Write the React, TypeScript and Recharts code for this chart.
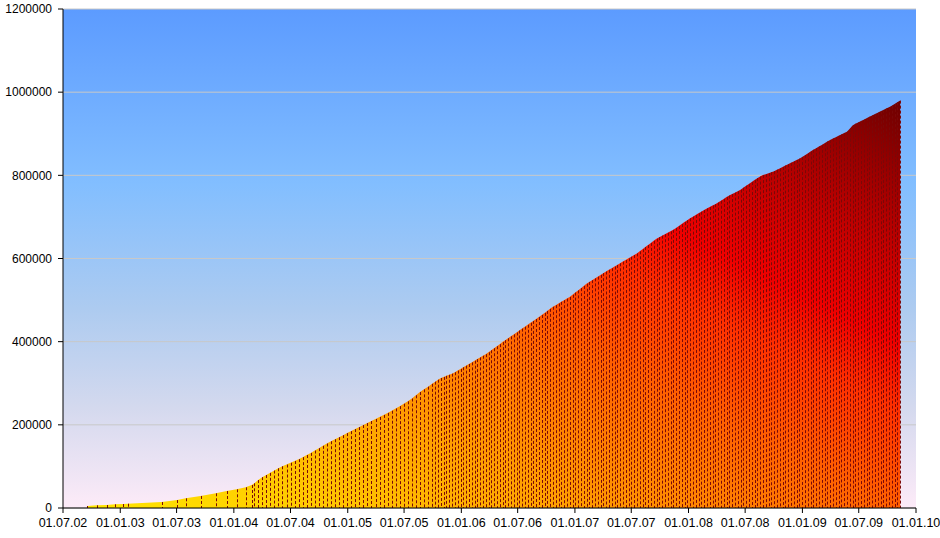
import React from 'react';
import { ComposedChart, Area, Bar, XAxis, YAxis, CartesianGrid } from 'recharts';

// x = days since 01.07.2002
const dayOffsets: number[] = [
  78, 108, 140, 167, 194, 207, 317, 367, 394, 442, 491, 526, 558, 587, 606, 615,
  627, 640, 653, 666, 679, 692, 705, 718, 731, 744, 757, 770, 783, 796, 809, 822,
  835, 848, 861, 874, 887, 900, 913, 926, 939, 952, 965, 978, 991, 1004, 1017, 1030,
  1043, 1056, 1069, 1082, 1095, 1108, 1121, 1134, 1147, 1160, 1173, 1186,
  1196, 1205, 1214, 1223, 1232, 1241, 1250, 1259, 1268, 1277, 1286, 1295, 1304, 1313, 1322,
  1331, 1340, 1349, 1358, 1367, 1376, 1385, 1394, 1403, 1412, 1421, 1430, 1439, 1448,
  1457, 1466, 1475, 1484, 1493, 1502, 1511, 1520, 1529, 1538, 1547, 1556, 1565, 1574,
  1583, 1592, 1601, 1610, 1619, 1628, 1637, 1646, 1655, 1664, 1673, 1682, 1691, 1700,
  1709, 1718, 1727, 1736, 1745, 1754, 1763, 1772, 1781, 1790, 1799, 1808, 1817, 1826,
  1835, 1844, 1853, 1862, 1871, 1880, 1889, 1898, 1907, 1916, 1925, 1934, 1943, 1952,
  1961, 1970, 1979, 1988, 1997, 2006, 2015, 2024, 2033, 2042, 2051, 2060, 2069, 2078,
  2087, 2096, 2105, 2114, 2123, 2132, 2141, 2150, 2159, 2168, 2177, 2186, 2195, 2204,
  2213, 2222, 2231, 2240, 2249, 2258, 2267, 2276, 2285, 2294, 2303, 2312, 2321, 2330,
  2339, 2348, 2357, 2366, 2375, 2384, 2393, 2402, 2411, 2420, 2429, 2438, 2447, 2456,
  2465, 2474, 2483, 2492, 2501, 2510, 2519, 2528, 2537, 2546, 2555, 2564, 2573, 2582,
  2591, 2600, 2609, 2618, 2627, 2636, 2645, 2654, 2663, 2672, 2681, 2690,
];

const totals: number[] = [
  4800, 6500, 7200, 8900, 9600, 10300, 14400, 19200, 23300, 28900, 35400, 40900, 45000, 49800, 55300, 59400,
  67200, 74200, 79300, 84500, 90100, 95600, 100400, 104500, 108800, 113100, 117500, 122300, 127400, 132500, 138200, 143900,
  149500, 155100, 160600, 165400, 170300, 175200, 180100, 184900, 189800, 194600, 199500, 204300, 209200, 214100, 219000, 223800,
  228700, 233800, 239400, 244900, 250700, 256600, 263300, 271100, 278900, 285300, 291800, 298600,
  303800, 308500, 312600, 315200, 317800, 320400, 323000, 326500, 330400, 334400, 338400, 342300, 346300, 350200, 354200,
  358100, 362100, 366100, 370000, 374500, 379300, 384200, 389100, 394000, 398900, 403600, 408200, 412800, 417500,
  422100, 426800, 431400, 436000, 440600, 445300, 449900, 454500, 459300, 464200, 469100, 474000, 478900, 483800,
  487800, 491700, 495700, 499700, 503600, 507600, 512700, 518000, 523300, 528700, 534000, 539300, 543700, 547900,
  552200, 556400, 560600, 564800, 568700, 572700, 576600, 580600, 584600, 588500, 592500, 596400, 600400, 604300,
  608300, 612300, 617300, 622300, 627400, 632400, 637500, 642500, 647600, 651400, 654900, 658400, 661800, 665300,
  668900, 673600, 678200, 682800, 687500, 692100, 696800, 700700, 704700, 708600, 712600, 716600, 720500, 723900,
  727300, 730600, 734400, 738900, 743300, 747800, 751400, 754900, 758400, 761900, 765500, 770100, 774800, 779400,
  784000, 788700, 793200, 796900, 800600, 802900, 805100, 807400, 810000, 813400, 816700, 820000, 823400, 826700,
  830000, 833400, 836700, 840100, 844200, 848500, 852800, 857100, 861300, 865300, 869200, 873200, 877200, 881100,
  885100, 888400, 891700, 895000, 898300, 901600, 904800, 912200, 919700, 923800, 927200, 930500, 933900, 937300,
  940600, 944000, 947300, 950600, 953900, 957200, 960500, 963800, 967500, 971600, 975600, 979700,
];

const tickDays: number[] = [0, 184, 365, 549, 731, 915, 1096, 1280, 1461, 1645, 1826, 2010, 2192, 2376, 2557, 2741];
const tickLabels: string[] = [
  '01.07.02', '01.01.03', '01.07.03', '01.01.04', '01.07.04', '01.01.05', '01.07.05', '01.01.06',
  '01.07.06', '01.01.07', '01.07.07', '01.01.08', '01.07.08', '01.01.09', '01.07.09', '01.01.10',
];
const yTicks: number[] = [0, 200000, 400000, 600000, 800000, 1000000, 1200000];

const data = dayOffsets.map((d, i) => ({ day: d, total: totals[i] }));

const yFont = { fontFamily: 'Liberation Sans, Arial, sans-serif', fontSize: 12, fill: '#000' };
const xFont = { fontFamily: 'Liberation Sans, Arial, sans-serif', fontSize: 12.5, fill: '#000' };

const DropLine = (props: any) => {
  const { x, y, width, height } = props;
  if (height == null || height <= 0) return null;
  const cx = Math.round(x + width / 2) + 0.5;
  return (
    <line x1={cx} x2={cx} y1={y} y2={y + height} stroke="#7a0808" strokeWidth={1} strokeDasharray="3 2" />
  );
};

export default function App() {
  return (
    <div style={{ position: 'absolute', left: 0, top: 0 }}>
      <ComposedChart
        width={940}
        height={538}
        data={data}
        margin={{ top: 9, right: 24, bottom: 0, left: 0 }}
      >
        <defs>
          <linearGradient id="bgGrad" x1="0" y1="0" x2="0" y2="1">
            <stop offset="0" stopColor="#5C9BFF" />
            <stop offset="0.35" stopColor="#82BEFF" />
            <stop offset="0.6" stopColor="#ADCBF0" />
            <stop offset="0.8" stopColor="#D4D9EE" />
            <stop offset="1" stopColor="#FDEBF8" />
          </linearGradient>
          <linearGradient id="areaGrad" x1="0" y1="1" x2="1" y2="0">
            <stop offset="0" stopColor="#FFE600" />
            <stop offset="0.12" stopColor="#FFD000" />
            <stop offset="0.3" stopColor="#FFA000" />
            <stop offset="0.5" stopColor="#FF6000" />
            <stop offset="0.62" stopColor="#FF3000" />
            <stop offset="0.7" stopColor="#F00000" />
            <stop offset="0.8" stopColor="#C80000" />
            <stop offset="1" stopColor="#6E0000" />
          </linearGradient>
        </defs>
        <CartesianGrid vertical={false} stroke="#C8C8C8" fill="url(#bgGrad)" fillOpacity={1} />
        <XAxis
          dataKey="day"
          type="number"
          domain={[0, 2741]}
          ticks={tickDays}
          interval={0}
          tickFormatter={(v: number) => tickLabels[tickDays.indexOf(v)] ?? ''}
          height={30}
          axisLine={{ stroke: '#000' }}
          tickLine={{ stroke: '#000' }}
          tickSize={5}
          tickMargin={5}
          tick={xFont}
          allowDataOverflow
        />
        <XAxis
          xAxisId="top"
          orientation="top"
          type="number"
          domain={[0, 2741]}
          height={0}
          tick={false}
          tickLine={false}
          axisLine={{ stroke: '#000' }}
        />
        <YAxis
          type="number"
          domain={[0, 1200000]}
          ticks={yTicks}
          interval={0}
          width={63}
          axisLine={{ stroke: '#000' }}
          tickLine={{ stroke: '#000' }}
          tickSize={5}
          tickMargin={6}
          tick={yFont}
          allowDataOverflow
        />
        <YAxis
          yAxisId="right"
          orientation="right"
          type="number"
          domain={[0, 1200000]}
          width={0}
          tick={false}
          tickLine={false}
          axisLine={{ stroke: '#000' }}
        />
        <Area
          type="linear"
          dataKey="total"
          stroke="none"
          fill="url(#areaGrad)"
          fillOpacity={1}
          isAnimationActive={false}
          dot={false}
          activeDot={false}
        />
        <Bar dataKey="total" barSize={1} shape={<DropLine />} isAnimationActive={false} />
      </ComposedChart>
    </div>
  );
}
